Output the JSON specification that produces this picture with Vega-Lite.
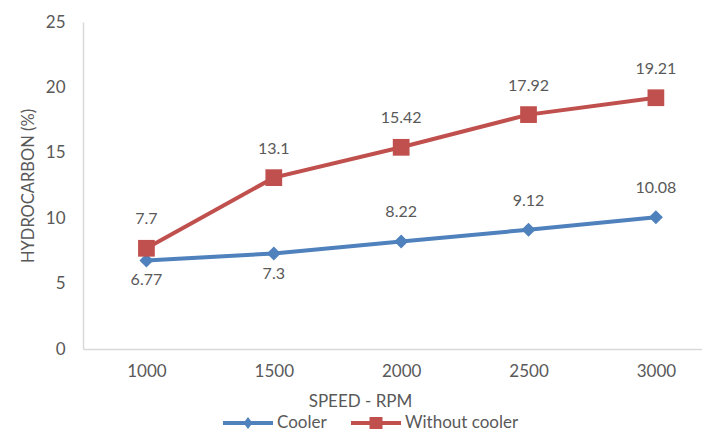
{
  "$schema": "https://vega.github.io/schema/vega-lite/v6.json",
  "width": 619,
  "height": 327,
  "autosize": "none",
  "padding": {"left": 83, "top": 22, "right": 0, "bottom": 83},
  "background": "white",
  "config": {
    "font": "Lato",
    "view": {"stroke": null},
    "axis": {"labelColor": "#595959", "titleColor": "#595959", "titleFontWeight": "normal", "grid": false, "ticks": false, "domainColor": "#d9d9d9", "domainWidth": 1.5, "labelFont": "Lato", "titleFont": "Lato"}
  },
  "data": {
    "values": [
      {"speed": 1000, "series": "Cooler", "hc": 6.77},
      {"speed": 1500, "series": "Cooler", "hc": 7.3},
      {"speed": 2000, "series": "Cooler", "hc": 8.22},
      {"speed": 2500, "series": "Cooler", "hc": 9.12},
      {"speed": 3000, "series": "Cooler", "hc": 10.08},
      {"speed": 1000, "series": "Without cooler", "hc": 7.7},
      {"speed": 1500, "series": "Without cooler", "hc": 13.1},
      {"speed": 2000, "series": "Without cooler", "hc": 15.42},
      {"speed": 2500, "series": "Without cooler", "hc": 17.92},
      {"speed": 3000, "series": "Without cooler", "hc": 19.21}
    ]
  },
  "encoding": {
    "x": {
      "field": "speed", "type": "quantitative",
      "scale": {"domain": [751, 3181], "nice": false, "zero": false},
      "axis": {"values": [1000, 1500, 2000, 2500, 3000], "format": "d", "labelFontSize": 17, "labelPadding": 14, "title": "SPEED - RPM", "titleFontSize": 17, "titleX": 277, "titlePadding": 14}
    },
    "y": {
      "field": "hc", "type": "quantitative",
      "scale": {"domain": [0, 25], "nice": false},
      "axis": {"values": [0, 5, 10, 15, 20, 25], "labelFontSize": 17, "labelPadding": 18, "title": "HYDROCARBON (%)", "titleFontSize": 16.5, "titlePadding": 9}
    }
  },
  "layer": [
    {
      "mark": {"type": "point", "filled": true, "opacity": 0},
      "encoding": {
        "fill": {
          "field": "series", "type": "nominal",
          "scale": {"domain": ["Cooler", "Without cooler"], "range": ["#4F81BD", "#C0504D"]},
          "legend": {"orient": "none", "legendX": 155, "legendY": 391, "direction": "horizontal", "title": null, "symbolSize": 400, "labelFontSize": 17, "labelColor": "#595959", "labelFont": "Lato", "labelOffset": 19, "columnPadding": 24, "padding": 0, "symbolStrokeWidth": 0, "symbolOpacity": 1, "encode": {"symbols": {"update": {"opacity": {"value": 1}, "fillOpacity": {"value": 1}}}}}
        },
        "shape": {
          "field": "series", "type": "nominal",
          "scale": {"domain": ["Cooler", "Without cooler"], "range": ["M-2.5,-0.2H2.5V0.2H-2.5Z M0,-0.6L0.45,0L0,0.6L-0.45,0Z", "M-2.5,-0.2H2.5V0.2H-2.5Z M-0.65,-0.6H0.65V0.6H-0.65Z"]},
          "legend": {"orient": "none", "legendX": 155, "legendY": 391, "direction": "horizontal", "title": null, "symbolSize": 400, "labelFontSize": 17, "labelColor": "#595959", "labelFont": "Lato", "labelOffset": 19, "columnPadding": 24, "padding": 0, "symbolStrokeWidth": 0, "symbolOpacity": 1, "encode": {"symbols": {"update": {"opacity": {"value": 1}, "fillOpacity": {"value": 1}}}}}
        }
      }
    },
    {
      "mark": {"type": "line", "strokeWidth": 4},
      "encoding": {
        "color": {"field": "series", "type": "nominal", "scale": {"domain": ["Cooler", "Without cooler"], "range": ["#4F81BD", "#C0504D"]}, "legend": null}
      }
    },
    {
      "transform": [{"filter": "datum.series === 'Cooler'"}],
      "mark": {"type": "point", "shape": "diamond", "filled": true, "size": 196, "opacity": 1},
      "encoding": {"color": {"field": "series", "type": "nominal", "legend": null}}
    },
    {
      "transform": [{"filter": "datum.series === 'Without cooler'"}],
      "mark": {"type": "point", "shape": "square", "filled": true, "size": 280, "opacity": 1},
      "encoding": {"color": {"field": "series", "type": "nominal", "legend": null}}
    },
    {
      "transform": [{"filter": "datum.series === 'Without cooler'"}],
      "mark": {"type": "text", "fontSize": 16, "color": "#595959", "dy": -29, "baseline": "middle", "align": "center"},
      "encoding": {"text": {"field": "hc", "type": "nominal"}}
    },
    {
      "transform": [{"filter": "datum.series === 'Cooler' && datum.speed >= 2000"}],
      "mark": {"type": "text", "fontSize": 16, "color": "#595959", "dy": -29, "baseline": "middle", "align": "center"},
      "encoding": {"text": {"field": "hc", "type": "nominal"}}
    },
    {
      "transform": [{"filter": "datum.series === 'Cooler' && datum.speed < 2000"}],
      "mark": {"type": "text", "fontSize": 16, "color": "#595959", "dy": 20, "baseline": "middle", "align": "center"},
      "encoding": {"text": {"field": "hc", "type": "nominal"}}
    }
  ]
}
